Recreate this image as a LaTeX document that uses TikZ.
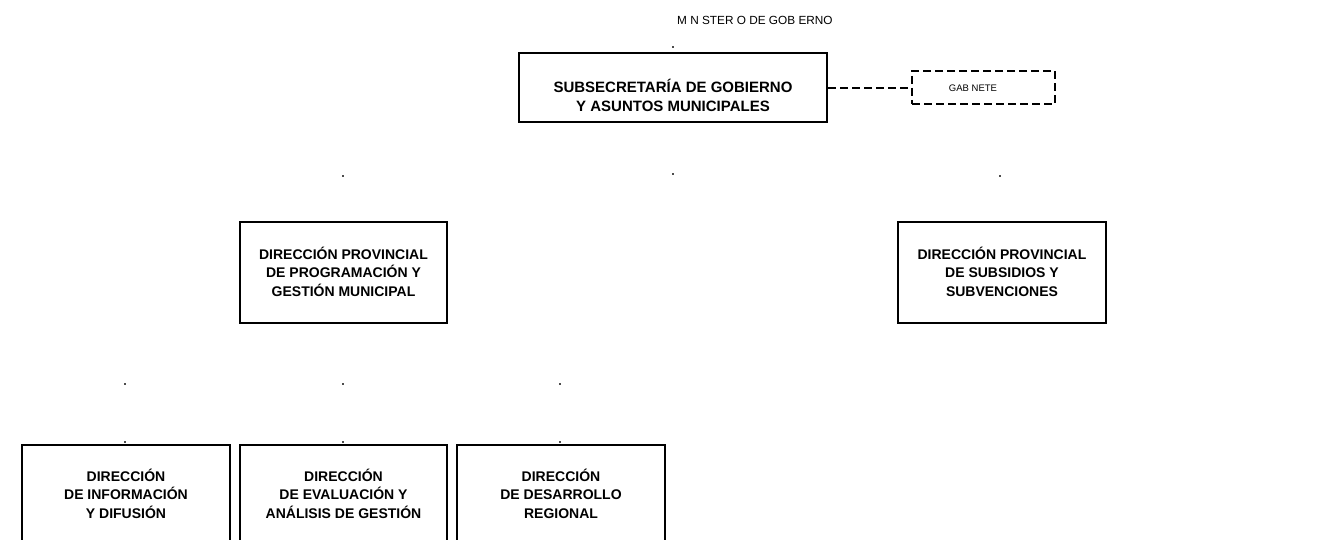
\documentclass[tikz,border=0pt]{standalone}
\usepackage{fontspec}
\setmainfont{Liberation Sans}
\begin{document}
\begin{tikzpicture}[x=1pt,y=-1pt,
  orgbox/.style={draw=black,line width=2pt,fill=white,inner sep=0pt},
  dashbox/.style={draw=black,line width=2pt,dash pattern=on 8pt off 4pt,inner sep=0pt},
  bigtxt/.style={font=\bfseries\fontsize{15}{19}\selectfont,align=center,inner sep=0pt},
  midtxt/.style={font=\bfseries\fontsize{14}{18.5}\selectfont,align=center,inner sep=0pt},
  smalltxt/.style={font=\fontsize{11.8}{14}\selectfont,inner sep=0pt},
  tinytxt/.style={font=\fontsize{9.5}{12}\selectfont,inner sep=0pt},
  link/.style={draw=black,line width=2pt,dash pattern=on 8pt off 4pt},
  speck/.style={fill=black!70,inner sep=0pt,minimum size=1.2pt,draw=none}
]
\useasboundingbox (0,0) rectangle (1324,540);
\fill[white] (0,0) rectangle (1324,540);

% title
\node[smalltxt,anchor=west] (min) at (677,20) {M N STER O DE GOB ERNO};

% top box
\node[orgbox,minimum width=308pt,minimum height=69pt] (sub) at (673,87.5) {};
\node[bigtxt] (subT) at (673,95.5) {SUBSECRETARÍA DE GOBIERNO\\Y ASUNTOS MUNICIPALES};

% gabinete
\node[dashbox,minimum width=143pt,minimum height=33pt] (gab) at (983.5,87.5) {};
\node[tinytxt] (gabT) at (973,88) {GAB NETE};
\draw[link] (sub.east |- 0,88) -- (gab.west |- 0,88);

% level 2
\node[orgbox,minimum width=207pt,minimum height=101pt] (dpp) at (343.5,272.5) {};
\node[midtxt] (dppT) at (343.5,271.5) {DIRECCIÓN PROVINCIAL\\DE PROGRAMACIÓN Y\\GESTIÓN MUNICIPAL};
\node[orgbox,minimum width=208pt,minimum height=101pt] (dps) at (1002,272.5) {};
\node[midtxt] (dpsT) at (1002,271.5) {DIRECCIÓN PROVINCIAL\\DE SUBSIDIOS Y\\SUBVENCIONES};

% level 3 (boxes run past the bottom edge)
\draw[line width=2pt] (22,548) |- (230,445) -- (230,548);
\draw[line width=2pt] (240,548) |- (447,445) -- (447,548);
\draw[line width=2pt] (457,548) |- (665,445) -- (665,548);
\node[midtxt] (b1T) at (126,493.5) {DIRECCIÓN\\DE INFORMACIÓN\\Y DIFUSIÓN};
\node[midtxt] (b2T) at (343.5,493.5) {DIRECCIÓN\\DE EVALUACIÓN Y\\ANÁLISIS DE GESTIÓN};
\node[midtxt] (b3T) at (561,493.5) {DIRECCIÓN\\DE DESARROLLO\\REGIONAL};

% residual specks
\node[speck] (s1) at (673,47) {};
\node[speck] (s2) at (673,174) {};
\node[speck] (s3) at (343,176) {};
\node[speck] (s4) at (1000,176) {};
\node[speck] (s5) at (125,384) {};
\node[speck] (s6) at (343,384) {};
\node[speck] (s7) at (560,384) {};
\node[speck] (s8) at (125,442) {};
\node[speck] (s9) at (343,442) {};
\node[speck] (s10) at (560,442) {};
\end{tikzpicture}
\end{document}
